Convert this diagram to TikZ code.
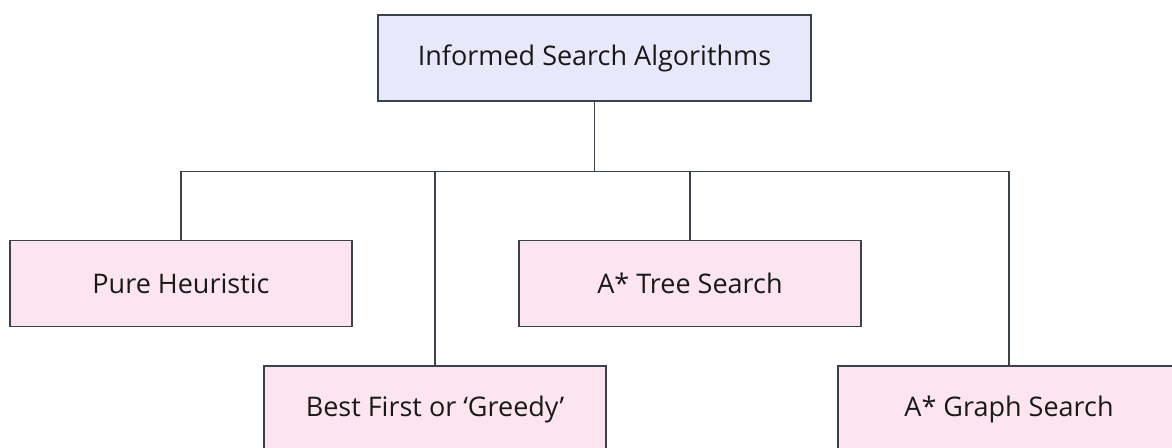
\documentclass[tikz,border=0pt]{standalone}
\usepackage{fontspec}
\setmainfont{Open Sans}
\definecolor{rootfill}{HTML}{E8E8FA}
\definecolor{leaffill}{HTML}{FDE5F0}
\definecolor{edgegray}{HTML}{3A424C}
\tikzset{
  box/.style={draw=edgegray, line width=1.8pt, minimum width=342pt, minimum height=86pt,
              inner sep=0pt, font=\fontsize{27}{32}\selectfont, text=black!90},
  rootbox/.style={box, fill=rootfill, minimum width=433pt},
  leafbox/.style={box, fill=leaffill},
  link/.style={draw=edgegray, line width=1.8pt}
}
\begin{document}
\begin{tikzpicture}[x=1pt, y=-1pt]
  \useasboundingbox (0,0) rectangle (1172,447);
  \clip (0,0) rectangle (1172,447);
  \fill[white] (0,0) rectangle (1172,447);

  \node[rootbox] (root) at (594.5,58) {Informed Search Algorithms};
  \node[leafbox] (pure) at (181,283.5) {Pure Heuristic};
  \node[leafbox] (tree) at (690,283.5) {A* Tree Search};
  \node[leafbox] (greedy) at (435,409) {Best First or ‘Greedy’};
  \node[leafbox] (graph) at (1009,409) {A* Graph Search};

  \coordinate (bus) at (594.5,171.5);
  \draw[link] (root.south) -- (bus);
  \draw[link] (pure.north) |- (bus) -| (graph.north);
  \draw[link] (greedy.north) -- (greedy.north |- bus);
  \draw[link] (tree.north) -- (tree.north |- bus);
\end{tikzpicture}
\end{document}
